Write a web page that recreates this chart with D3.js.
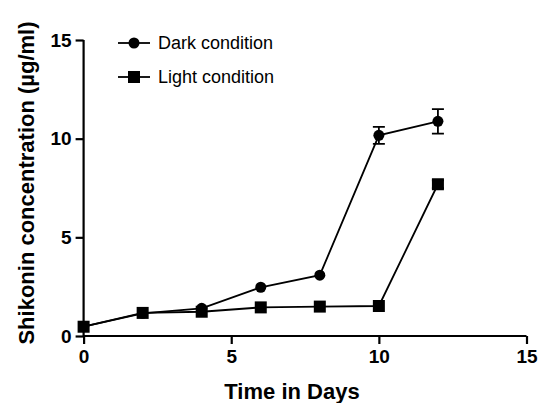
<!DOCTYPE html>
<html><head><meta charset="utf-8">
<script src="https://cdn.jsdelivr.net/npm/d3@7"></script>
<style>body{margin:0;background:#fff}</style></head>
<body><svg id="c" width="539" height="403"></svg>
<script>
const days = [0, 2, 4, 6, 8, 10, 12];
const dark = [0.47, 1.15, 1.4, 2.47, 3.08, 10.17, 10.88];
const darkErr = [0, 0, 0, 0, 0, 0.43, 0.62];
const light = [0.47, 1.17, 1.23, 1.45, 1.49, 1.52, 7.69];
const lightErr = [0, 0, 0, 0, 0, 0, 0.2];
const ticks = [0, 5, 10, 15];

const svg = d3.select("#c");
const x = d3.scaleLinear().domain([0, 15]).range([83.6, 526.5]);
const y = d3.scaleLinear().domain([0, 15]).range([336, 40]);
const font = "Liberation Sans, Arial, sans-serif";

const xa = svg.append("g").attr("transform", "translate(0,336)")
  .call(d3.axisBottom(x).tickValues(ticks).tickSize(8).tickPadding(6));
const ya = svg.append("g").attr("transform", "translate(83.6,0)")
  .call(d3.axisLeft(y).tickValues(ticks).tickSize(8).tickPadding(4));
[xa, ya].forEach(a => {
  a.select(".domain").attr("stroke-width", 2.2);
  a.selectAll(".tick line").attr("stroke-width", 2.2);
  a.selectAll("text").style("font-family", font).style("font-weight", "bold").style("font-size", "19px").attr("fill", "#000");
});
ya.select(".domain").attr("d", `M0,${y(15)}V${y(0)}`);
xa.select(".domain").attr("d", `M${x(0)},0H${x(15)}`);

svg.append("text").attr("x", 292).attr("y", 399).attr("text-anchor", "middle")
  .style("font-family", font).style("font-weight", "bold").style("font-size", "22px").text("Time in Days");
svg.append("text").attr("transform", "translate(34,183) rotate(-90)").attr("text-anchor", "middle")
  .style("font-family", font).style("font-weight", "bold").style("font-size", "22px")
  .text("Shikonin concentration (µg/ml)");

const line = d3.line().x((d, i) => x(days[i])).y(d => y(d));
function series(vals, errs, shape) {
  const g = svg.append("g");
  g.append("path").attr("d", line(vals)).attr("fill", "none").attr("stroke", "#000").attr("stroke-width", 1.8);
  vals.forEach((v, i) => {
    if (errs[i] > 0) {
      const cx = x(days[i]);
      g.append("path").attr("d",
        `M${cx},${y(v - errs[i])}V${y(v + errs[i])}M${cx - 6},${y(v - errs[i])}h12M${cx - 6},${y(v + errs[i])}h12`)
        .attr("stroke", "#000").attr("stroke-width", 1.8).attr("fill", "none");
    }
  });
  vals.forEach((v, i) => {
    if (shape === "circle") g.append("circle").attr("cx", x(days[i])).attr("cy", y(v)).attr("r", 5.5);
    else g.append("rect").attr("x", x(days[i]) - 6).attr("y", y(v) - 6).attr("width", 12).attr("height", 12);
  });
}
series(dark, darkErr, "circle");
series(light, lightErr, "rect");

const leg = [["Dark condition", "circle", 43], ["Light condition", "rect", 77]];
leg.forEach(([t, s, ly]) => {
  svg.append("line").attr("x1", 118).attr("x2", 150).attr("y1", ly).attr("y2", ly).attr("stroke", "#000").attr("stroke-width", 1.8);
  if (s === "circle") svg.append("circle").attr("cx", 134).attr("cy", ly).attr("r", 5.5);
  else svg.append("rect").attr("x", 128).attr("y", ly - 6).attr("width", 12).attr("height", 12);
  svg.append("text").attr("x", 158).attr("y", ly + 6).style("font-family", font).style("font-size", "18px").text(t);
});
</script></body></html>
